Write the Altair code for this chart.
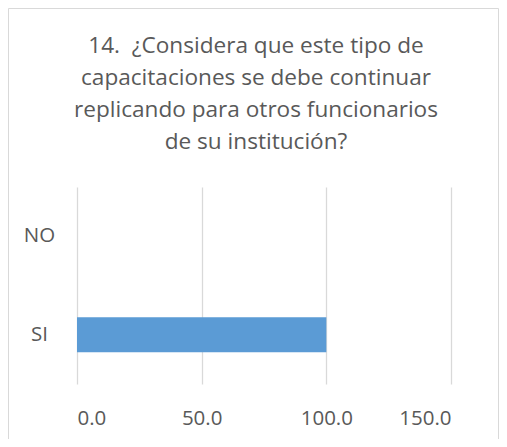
import altair as alt
import pandas as pd

categories = ["NO", "SI"]
values = [0, 100]
x_ticks = [0, 50, 100, 150]
title_lines = [
    "14.\u00a0 ¿Considera que este tipo de",
    "capacitaciones se debe continuar",
    "replicando para otros funcionarios",
    "de su institución?",
]

df = pd.DataFrame({"cat": categories, "val": values})

W, H = 374, 197
TEXT = "#595959"
FONT = "Open Sans"

bars = alt.Chart(df).mark_bar(color="#5b9bd5").encode(
    x=alt.X(
        "val:Q",
        scale=alt.Scale(domain=[0, 150], nice=False, zero=True),
        axis=alt.Axis(
            values=x_ticks, format=".1f", title=None, grid=True,
            gridColor="#d9d9d9", gridWidth=1.3, domain=False, ticks=False, tickSize=0,
            labelColor=TEXT, labelFont=FONT, labelFontSize=20.5, labelPadding=24,
        ),
    ),
    y=alt.Y(
        "cat:N",
        sort=categories,
        scale=alt.Scale(paddingInner=0.645, paddingOuter=0.3225),
        axis=alt.Axis(
            title=None, grid=False, domain=False, ticks=False, tickSize=0,
            labelColor=TEXT, labelFont=FONT, labelFontSize=20.5,
            labelAlign="center", labelPadding=38,
        ),
    ),
)

border = alt.Chart(alt.Data(values=[{}])).mark_rect(
    fillOpacity=0, stroke="#d9d9d9", strokeWidth=1
).encode(
    x=alt.value(-68.5), x2=alt.value(421.5),
    y=alt.value(-178.5), y2=alt.value(254.5),
)

chart = alt.layer(border, bars).properties(
    width=W, height=H,
    autosize=alt.AutoSizeParams(type="none"),
    padding={"left": 69, "top": 179, "right": 48, "bottom": 55},
    title=alt.TitleParams(
        text=title_lines, font=FONT, fontSize=22.6, fontWeight="normal",
        color=TEXT, lineHeight=32.3, anchor="middle", dx=-8, offset=-146,
    ),
).configure(background="white").configure_view(stroke=None)

chart.save("out.html", embed_options={"renderer": "svg", "actions": False})
